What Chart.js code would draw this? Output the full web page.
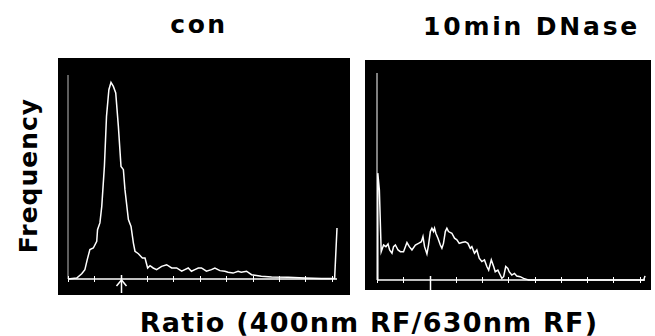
<!DOCTYPE html>
<html>
<head>
<meta charset="utf-8">
<script src="https://cdn.jsdelivr.net/npm/chart.js@4.4.1/dist/chart.umd.min.js"></script>
<style>
  body { margin: 0; background: #fff; }
  #wrap { position: relative; width: 655px; height: 336px; overflow: hidden; }
  .txt { position: absolute; font-family: "DejaVu Sans", sans-serif; font-weight: bold; color: #000; text-align: center; white-space: nowrap; }
  .panel { position: absolute; background: #000; }
  .panel canvas { display: block; }
</style>
</head>
<body>
<div id="wrap">
  <div class="txt" style="left:99px;top:12px;width:200px;font-size:25px;line-height:25px;letter-spacing:2.5px;">con</div>
  <div class="txt" style="left:423px;top:14px;width:200px;font-size:25px;line-height:25px;letter-spacing:2.8px;">10min DNase</div>
  <div class="txt" style="left:-72px;top:163px;width:200px;height:25px;font-size:25px;line-height:25px;letter-spacing:1px;transform:rotate(-90deg);">Frequency</div>
  <div class="txt" style="left:69px;top:309px;width:600px;font-size:27px;line-height:27px;letter-spacing:1.2px;">Ratio (400nm RF/630nm RF)</div>

  <div class="panel" style="left:58px;top:58px;width:292px;height:237px;"><canvas id="conChart" width="292" height="237"></canvas></div>
  <div class="panel" style="left:365px;top:60px;width:286px;height:230px;"><canvas id="dnaseChart" width="286" height="230"></canvas></div>
</div>

<script>
// histogram traces (x = ratio channel, y = frequency, % of full scale)
const conX = [0, 0.33, 0.52, 0.64, 0.73, 0.83, 0.96, 1.09, 1.12, 1.21, 1.28, 1.38, 1.46, 1.55, 1.63, 1.72, 1.81, 1.91, 2.01, 2.10,
  2.16, 2.29, 2.39, 2.48, 2.54, 2.67, 2.82, 2.92, 3.02, 3.11, 3.23, 3.36, 3.55, 3.74, 3.93, 4.12, 4.31, 4.43, 4.56, 4.68,
  4.81, 4.94, 5.06, 5.25, 5.44, 5.57, 5.76, 5.95, 6.07, 6.26, 6.45, 6.57, 6.77, 6.96, 7.33, 7.72, 8.35, 8.98, 9.61, 10.11, 10.2];
const conY = [0, 0.5, 2.6, 4.6, 9.5, 14.4, 15.2, 18.5, 24.2, 27.5, 35.6, 55.2, 79.7, 92.8, 96.4, 94.4, 91.2, 74.8, 55.2, 53.6,
  43.8, 29.1, 25.8, 17.6, 13.6, 12.4, 10.3, 10.3, 5.4, 6.5, 5.4, 4.6, 6.2, 7.0, 5.4, 5.4, 3.8, 4.6, 5.4, 3.8,
  4.6, 5.4, 5.4, 3.8, 4.6, 5.4, 4.1, 3.8, 3.3, 2.9, 3.8, 3.3, 3.8, 2.1, 1.3, 1.0, 0.8, 0.5, 0.3, 0.3, 25];

const dnaseX = [0, 0.03, 0.09, 0.16, 0.25, 0.34, 0.42, 0.48, 0.57, 0.63, 0.70, 0.80, 0.89, 1.01, 1.14, 1.23, 1.33, 1.46, 1.58, 1.69, 1.75,
  1.81, 1.90, 1.96, 2.03, 2.09, 2.15, 2.19, 2.24, 2.32, 2.41, 2.47, 2.53, 2.60, 2.66, 2.72, 2.85, 2.95, 3.04, 3.13, 3.23,
  3.36, 3.46, 3.55, 3.61, 3.71, 3.80, 3.89, 3.99, 4.09, 4.18, 4.25, 4.35, 4.44, 4.50, 4.60, 4.69, 4.75, 4.82, 4.90, 4.98,
  5.03, 5.13, 5.23, 5.32, 5.45, 5.58, 5.70, 5.77, 10.15, 10.2];
const dnaseY = [0, 51.6, 43.5, 13.7, 16.9, 16.1, 17.4, 14.5, 12.9, 16.1, 16.9, 14.5, 13.7, 13.7, 18.1, 16.1, 14.5, 16.9, 17.7, 18.5, 21.0,
  16.1, 12.6, 16.9, 23.4, 25.0, 23.4, 25.0, 22.6, 20.2, 16.9, 15.3, 17.7, 23.4, 25.0, 23.4, 22.6, 20.2, 19.4, 17.7, 18.1,
  18.5, 17.7, 15.3, 16.1, 12.9, 14.5, 10.5, 8.9, 9.7, 6.5, 4.8, 9.7, 6.5, 4.0, 4.8, 2.4, 0.8, 1.6, 6.5, 5.6,
  4.0, 2.4, 3.2, 1.9, 1.6, 0.8, 0.3, 0, 0, 2];

const tickValues = [0, 1, 2, 3, 4, 5, 6, 7, 8, 9, 10];
const markerValue = 2;
const xMax = 10.2;
const yMax = 100;

// draws the scope-style baseline, left axis, tick marks and the marker below channel 2
const scopeAxes = {
  id: 'scopeAxes',
  afterDatasetsDraw(chart, args, opts) {
    const { ctx, scales: { x, y } } = chart;
    const y0 = y.getPixelForValue(0);
    const x0 = x.getPixelForValue(0);
    ctx.save();
    ctx.lineCap = 'butt';

    ctx.strokeStyle = opts.axisColor;
    ctx.lineWidth = 1;
    ctx.beginPath();
    ctx.moveTo(x0, y0);
    ctx.lineTo(x0, y.getPixelForValue(yMax));
    ctx.stroke();

    ctx.strokeStyle = '#fff';
    ctx.lineWidth = 1.5;
    ctx.beginPath();
    ctx.moveTo(x0, y0);
    ctx.lineTo(x.getPixelForValue(xMax), y0);
    ctx.stroke();

    ctx.lineWidth = 1;
    tickValues.forEach(v => {
      const px = Math.round(x.getPixelForValue(v)) + 0.5;
      ctx.beginPath();
      ctx.moveTo(px, y0 - 3);
      ctx.lineTo(px, y0 + 3);
      ctx.stroke();
    });

    const mx = Math.round(x.getPixelForValue(markerValue)) + 0.5;
    ctx.lineWidth = 1.5;
    ctx.beginPath();
    ctx.moveTo(mx, y0 - 4);
    ctx.lineTo(mx, y0 + opts.markerLen);
    ctx.stroke();
    if (opts.arrow) {
      ctx.beginPath();
      ctx.moveTo(mx - 5, y0 + 7);
      ctx.lineTo(mx, y0 + 1);
      ctx.lineTo(mx + 5, y0 + 7);
      ctx.stroke();
    }
    ctx.restore();
  }
};

function makeChart(id, xs, ys, padding, axisOpts) {
  const ctx = document.getElementById(id).getContext('2d');
  return new Chart(ctx, {
    type: 'line',
    data: {
      datasets: [{
        data: xs.map((v, i) => ({ x: v, y: ys[i] })),
        borderColor: '#fff',
        borderWidth: 1.5,
        pointRadius: 0,
        tension: 0,
        fill: false,
        clip: false
      }]
    },
    options: {
      responsive: false,
      animation: false,
      devicePixelRatio: 1,
      layout: { padding },
      scales: {
        x: { type: 'linear', min: 0, max: xMax, display: false },
        y: { min: 0, max: yMax, display: false }
      },
      plugins: {
        legend: { display: false },
        tooltip: { enabled: false },
        scopeAxes: axisOpts
      }
    },
    plugins: [scopeAxes]
  });
}

makeChart('conChart', conX, conY, { left: 10, right: 13, top: 17, bottom: 16 },
  { axisColor: '#bbb', markerLen: 14, arrow: true });
makeChart('dnaseChart', dnaseX, dnaseY, { left: 12, right: 6, top: 13, bottom: 10 },
  { axisColor: '#fff', markerLen: 10, arrow: false });
</script>
</body>
</html>
